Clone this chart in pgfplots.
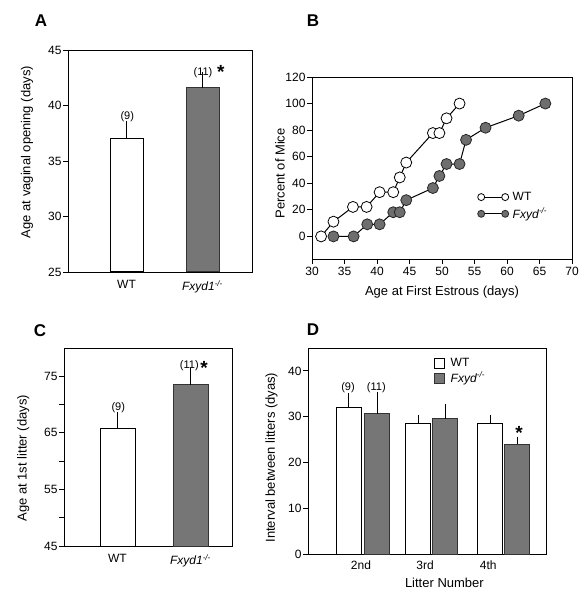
\documentclass[border=0pt]{standalone}
\usepackage{fontspec}
\setmainfont{Liberation Sans}
\usepackage{pgfplots}
\pgfplotsset{compat=1.18}
\definecolor{bargray}{RGB}{118,118,118}
\definecolor{markgray}{RGB}{110,110,110}
\pgfplotsset{
  panel/.style={
    scale only axis,
    anchor=south west,
    axis line style={line width=0.8pt},
    every tick/.style={line width=0.8pt, black},
    tick align=outside,
    major tick length=5pt,
    minor tick length=5pt,
    ytick pos=left,
    xtick pos=bottom,
    /pgf/number format/assume math mode=true,
    tick label style={font=\fontsize{12}{14}\selectfont},
    yticklabel style={xshift=2pt},
    label style={font=\fontsize{13}{15}\selectfont},
  },
  errstyle/.style={error bars/.cd, y dir=plus, y explicit,
    error bar style={line width=1pt,black},
    error mark options={line width=1pt, mark size=3.5pt, black}},
}
\newcommand{\nlab}{\fontsize{11}{12}\selectfont}
\newcommand{\astfont}{\bfseries\fontsize{19}{19}\selectfont}
\begin{document}
\begin{tikzpicture}
\useasboundingbox (0pt,0pt) rectangle (588pt,600pt);
% panel letters
\node[font=\bfseries\fontsize{17}{20}\selectfont] at (41pt,579pt) {A};
\node[font=\bfseries\fontsize{17}{20}\selectfont] at (313pt,579pt) {B};
\node[font=\bfseries\fontsize{17}{20}\selectfont] at (40pt,269pt) {C};
\node[font=\bfseries\fontsize{17}{20}\selectfont] at (313pt,270pt) {D};

% ---------------- A
\begin{axis}[panel, at={(68pt,328pt)}, width=184pt, height=222pt,
  xmin=0, xmax=184, ymin=25, ymax=45, ytick={25,30,...,45},
  xtick={58.5,134.5}, xticklabels={WT,{\textit{Fxyd1}\textsuperscript{\textit{-/-}}}},
  xtick style={draw=none},
  ylabel={Age at vaginal opening (days)},
  ylabel style={at={(axis description cs:-0.223,0.54)}, anchor=center, rotate=0}]
\addplot[ybar, bar shift=0pt, bar width=33, fill=white, draw=black, line width=1pt, errstyle]
  coordinates {(58.5,37.0) +- (0,1.3)};
\addplot[ybar, bar shift=0pt, bar width=33, fill=bargray, draw=black!80, line width=1pt, errstyle]
  coordinates {(134.5,41.6) +- (0,1.1)};
\node[font=\nlab] at (axis cs:59.3,39.0) {(9)};
\node[font=\nlab] at (axis cs:135,42.95) {(11)};
\node[font=\astfont, anchor=north, inner sep=0pt] at (axis cs:152.7,43.6) {*};
\end{axis}

% ---------------- B
\begin{axis}[panel, at={(312pt,341pt)}, width=260pt, height=182pt,
  xmin=30, xmax=70, ymin=-17, ymax=120,
  xtick={30,35,...,70}, ytick={0,20,...,120},
  xlabel={Age at First Estrous (days)}, ylabel={Percent of Mice},
  xlabel style={at={(axis description cs:0.5,-0.183)}, anchor=center},
  ylabel style={at={(axis description cs:-0.123,0.47)}, anchor=center},
  legend style={at={(0.625,0.39)}, anchor=north west, draw=none, fill=none,
    font=\fontsize{12}{14}\selectfont, row sep=2pt},
  legend cell align=left,
  legend image code/.code={\draw[#1, mark size=3.5pt] plot coordinates {(0pt,0pt) (24pt,0pt)}; \path (29pt,0pt);}]
\addplot[black, line width=1pt, mark=*, mark size=5.5pt, mark options={fill=white, line width=0.8pt}]
  coordinates {(31.4,0) (33.3,11.1) (36.3,22.2) (38.4,22.2) (40.4,33.3) (42.5,33.3)
    (43.5,44.4) (44.5,55.6) (48.6,77.8) (49.6,77.8) (50.7,88.9) (52.7,100)};
\addlegendentry{WT}
\addplot[black, line width=1pt, mark=*, mark size=5.5pt, mark options={fill=markgray, draw=black!85, line width=0.8pt}]
  coordinates {(33.3,0) (36.4,0) (38.5,9.1) (40.4,9.1) (42.5,18.2) (43.5,18.2) (44.5,27.3)
    (48.6,36.4) (49.6,45.5) (50.7,54.5) (52.7,54.5) (53.7,72.7) (56.7,81.8) (61.8,90.9) (65.9,100)};
\addlegendentry{\textit{Fxyd}\textsuperscript{\textit{-/-}}}
\end{axis}

% ---------------- C
\begin{axis}[panel, at={(64pt,54pt)}, width=168pt, height=198pt,
  xmin=0, xmax=168, ymin=45, ymax=80, ytick={45,55,65,75}, minor ytick={50,60,70},
  xtick={53.5,126.5}, xticklabels={WT,{\textit{Fxyd1}\textsuperscript{\textit{-/-}}}},
  xtick style={draw=none},
  ylabel={Age at 1st litter (days)},
  ylabel style={at={(axis description cs:-0.242,0.443)}, anchor=center}]
\addplot[ybar, bar shift=0pt, bar width=35, fill=white, draw=black, line width=1pt, errstyle]
  coordinates {(53.5,65.8) +- (0,2.2)};
\addplot[ybar, bar shift=0pt, bar width=35, fill=bargray, draw=black!80, line width=1pt, errstyle]
  coordinates {(126.5,73.5) +- (0,2.4)};
\node[font=\nlab] at (axis cs:54.3,69.5) {(9)};
\node[font=\nlab] at (axis cs:125.3,76.9) {(11)};
\node[font=\astfont, anchor=north, inner sep=0pt] at (axis cs:140,77.6) {*};
\end{axis}

% ---------------- D
\begin{axis}[panel, at={(308pt,46pt)}, width=238pt, height=206pt,
  xmin=0, xmax=238, ymin=0, ymax=45, ytick={0,10,...,40},
  xtick={53,117,180.3}, xticklabels={2nd,3rd,4th},
  xtick style={draw=none}, xticklabel style={yshift=2pt},
  xlabel={Litter Number}, ylabel={Interval between litters (dyas)},
  xlabel style={at={(axis description cs:0.573,-0.139)}, anchor=center},
  ylabel style={at={(axis description cs:-0.153,0.468)}, anchor=center},
  legend style={at={(0.515,0.97)}, anchor=north west, draw=none, fill=none,
    font=\fontsize{12}{14}\selectfont, row sep=0pt},
  legend cell align=left,
  legend image code/.code={\draw[#1, line width=0.8pt] (0pt,-5pt) rectangle (10pt,5pt); \path (14pt,0pt);}]
\addplot[ybar, bar shift=0pt, bar width=25, fill=white, draw=black, line width=1pt, errstyle]
  coordinates {(40.5,31.9) +- (0,2.4) (110.3,28.4) +- (0,1.3) (182,28.4) +- (0,1.3)};
\addlegendentry{WT}
\addplot[ybar, bar shift=0pt, bar width=25, fill=bargray, draw=black!80, line width=1pt, errstyle]
  coordinates {(69.3,30.6) +- (0,4.1) (137.3,29.5) +- (0,2.6) (209.3,24.0) +- (0,0.9)};
\addlegendentry{\textit{Fxyd}\textsuperscript{\textit{-/-}}}
\node[font=\nlab] at (axis cs:40,36.4) {(9)};
\node[font=\nlab] at (axis cs:68.3,36.4) {(11)};
\node[font=\astfont, anchor=north, inner sep=0pt] at (axis cs:211,27.9) {*};
\end{axis}
\end{tikzpicture}
\end{document}
